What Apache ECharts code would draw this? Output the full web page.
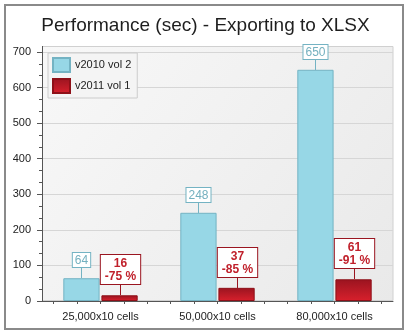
<!DOCTYPE html>
<html>
<head>
<meta charset="utf-8">
<script src="https://cdn.jsdelivr.net/npm/echarts@6/dist/echarts.min.js"></script>
<style>
html,body{margin:0;padding:0;background:#fff;}
#chart{width:411px;height:334px;}
</style>
</head>
<body>
<div id="chart"></div>
<script>
var titleText = 'Performance (sec) - Exporting to XLSX';
var categories = ['25,000x10 cells', '50,000x10 cells', '80,000x10 cells'];
var seriesNames = ['v2010 vol 2', 'v2011 vol 1'];
var v2010 = [64, 248, 650];
var v2011 = [16, 37, 61];
var v2011Change = ['-75 %', '-85 %', '-91 %'];
var yTicks = [0, 100, 200, 300, 400, 500, 600, 700];

var BLUE = '#97d7e6', BLUE_EDGE = '#74b3c3', BLUE_TEXT = '#74b0bf';
var RED_EDGE = '#9a1520', RED_TEXT = '#c0202b';
var FONT = '"Liberation Sans", Arial, sans-serif';

var minorCats = [];
for (var i = 0; i < categories.length * 5; i++) minorCats.push(String(i));

var labelData = [];
for (var i = 0; i < categories.length; i++) {
  labelData.push([i, v2010[i], 0, i]);
  labelData.push([i, v2011[i], 1, i]);
}

var chart = echarts.init(document.getElementById('chart'), null, {renderer: 'canvas'});
var BW = 0.31, GAP = 0.05;
chart.setOption({
  animation: false,
  backgroundColor: '#ffffff',
  title: {
    text: titleText, left: 'center', top: 11,
    textStyle: {fontFamily: FONT, fontSize: 19, fontWeight: 'normal', color: '#1e1e1e'}
  },
  legend: {
    orient: 'vertical', left: 48, top: 53,
    icon: 'rect',
    itemWidth: 17, itemHeight: 14, itemGap: 5,
    padding: [4, 6, 4, 4],
    backgroundColor: '#f4f4f4', borderColor: '#cccccc', borderWidth: 1,
    textStyle: {fontFamily: FONT, fontSize: 11, color: '#222'},
    data: seriesNames
  },
  graphic: [
    {type: 'rect', z: -10, shape: {x: 5, y: 5, width: 398, height: 324},
     style: {fill: '#ffffff', stroke: '#8a8a8a', lineWidth: 2}},
    {type: 'rect', z: -9, shape: {x: 42.5, y: 46.5, width: 350.5, height: 254},
     style: {
       fill: new echarts.graphic.LinearGradient(0, 0, 1, 1, [
         {offset: 0, color: '#f8f8f8'}, {offset: 1, color: '#e9e9e9'}]),
       stroke: '#d0d0d0', lineWidth: 1}},
    {type: 'line', z: 5, shape: {x1: 42.5, y1: 46, x2: 42.5, y2: 53},
     style: {stroke: '#555555', lineWidth: 1}}
  ],
  grid: {left: 42, right: 18, top: 52, bottom: 33, containLabel: false},
  xAxis: [
    {
      type: 'category', data: categories, gridIndex: 0,
      axisLine: {show: true, lineStyle: {color: '#555555', width: 1}},
      axisTick: {show: false},
      axisLabel: {fontFamily: FONT, fontSize: 11, color: '#222', margin: 10},
      splitLine: {show: false}
    },
    {
      type: 'category', data: minorCats, gridIndex: 0, position: 'bottom',
      axisLine: {show: false},
      axisTick: {show: true, alignWithLabel: true, length: 3, lineStyle: {color: '#555555'}},
      axisLabel: {show: false},
      splitLine: {show: false}
    }
  ],
  yAxis: {
    type: 'value', min: 0, max: 700, interval: 100,
    axisLine: {show: true, lineStyle: {color: '#555555', width: 1}},
    axisTick: {show: true, length: 5, lineStyle: {color: '#555555'}},
    minorTick: {show: true, splitNumber: 3, length: 3, lineStyle: {color: '#555555'}},
    axisLabel: {fontFamily: FONT, fontSize: 11, color: '#222', margin: 11,
      formatter: function (v) { return yTicks.indexOf(v) >= 0 ? String(v) : ''; }},
    splitLine: {show: true, lineStyle: {color: '#d6d6d6', width: 1}}
  },
  series: [
    {
      name: seriesNames[0], type: 'bar', data: v2010,
      barWidth: (BW * 100) + '%', barGap: (GAP * 100) + '%',
      itemStyle: {color: BLUE, borderColor: BLUE_EDGE, borderWidth: 1}
    },
    {
      name: seriesNames[1], type: 'bar', data: v2011,
      barWidth: (BW * 100) + '%', barGap: (GAP * 100) + '%',
      itemStyle: {
        color: new echarts.graphic.LinearGradient(0, 0, 0, 1, [
          {offset: 0, color: '#9a1420'}, {offset: 1, color: '#d8202c'}]),
        borderColor: '#8e1018', borderWidth: 1
      }
    },
    {
      type: 'custom', data: labelData, z: 10, silent: true,
      encode: {x: 0, y: 1},
      renderItem: function (params, api) {
        var cat = api.value(0), val = api.value(1), s = api.value(2), idx = api.value(3);
        var p = api.coord([cat, val]);
        var band = api.size([1, 0])[0];
        var bw = band * BW, gap = bw * GAP;
        var off = (bw + gap) / 2 * (s === 0 ? -1 : 1);
        var x = Math.round(p[0] + off) + 0.5;
        var y = Math.round(p[1]);
        var isBlue = s === 0;
        var col = isBlue ? BLUE_EDGE : RED_EDGE;
        var txt = isBlue ? String(v2010[idx]) : (v2011[idx] + '\n' + v2011Change[idx]);
        return {
          type: 'group',
          children: [
            {type: 'line', shape: {x1: x, y1: y, x2: x, y2: y - 11},
             style: {stroke: col, lineWidth: 1}},
            {type: 'text', x: x, y: y - 11,
             style: {
               text: txt,
               fill: isBlue ? BLUE_TEXT : RED_TEXT,
               font: (isBlue ? 'normal ' : 'bold ') + '12px ' + FONT,
               align: 'center', verticalAlign: 'bottom',
               textAlign: 'center', textVerticalAlign: 'bottom',
               lineHeight: 13,
               backgroundColor: '#ffffff', borderColor: col, borderWidth: 1,
               padding: isBlue ? [1, 2, 0, 2] : [2, 4, 1, 4]
             }}
          ]
        };
      }
    }
  ]
});
</script>
</body>
</html>
